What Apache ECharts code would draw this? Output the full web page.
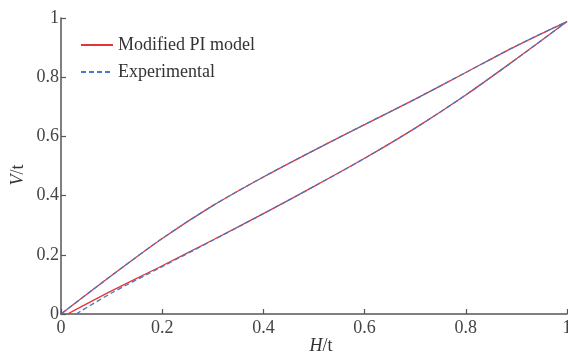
<!DOCTYPE html>
<html>
<head>
<meta charset="utf-8">
<script src="https://cdn.jsdelivr.net/npm/echarts@6/dist/echarts.min.js"></script>
<style>
  html, body { margin: 0; padding: 0; background: #fff; }
  #chart { width: 568px; height: 353px; }
</style>
</head>
<body>
<div id="chart"></div>
<script>
// loop: rising branch (lower) then falling branch (upper), H/t vs V/t
var modelH = [0.013, 0.1, 0.2, 0.3, 0.4, 0.5, 0.6, 0.7, 0.8, 0.9, 1.0,
              0.9, 0.8, 0.7, 0.6, 0.5, 0.4, 0.3, 0.2, 0.1, 0.0];
var modelV = [0.0, 0.078, 0.163, 0.25, 0.339, 0.431, 0.526, 0.628, 0.74, 0.862, 0.988,
              0.906, 0.816, 0.726, 0.64, 0.553, 0.463, 0.366, 0.255, 0.13, 0.0];
var expH = [0.03, 0.1, 0.2, 0.3, 0.4, 0.5, 0.6, 0.7, 0.8, 0.9, 1.0,
            0.9, 0.8, 0.7, 0.6, 0.5, 0.4, 0.3, 0.2, 0.1, 0.0];
var expV = [0.0, 0.071, 0.16, 0.249, 0.339, 0.431, 0.526, 0.628, 0.74, 0.862, 0.988,
            0.906, 0.816, 0.726, 0.64, 0.553, 0.463, 0.366, 0.255, 0.13, 0.0];
var tickLabels = ['0', '0.2', '0.4', '0.6', '0.8', '1'];

function pairs(xs, ys) {
  return xs.map(function (x, i) { return [x, ys[i]]; });
}

var serif = '"Liberation Serif", "DejaVu Serif", serif';
var axisColor = '#555';

var chart = echarts.init(document.getElementById('chart'));
chart.setOption({
  animation: false,
  grid: { left: 61, right: 1, top: 18, bottom: 39, outerBoundsMode: 'none' },
  legend: {
    orient: 'vertical',
    left: 75,
    top: 31,
    itemWidth: 32,
    itemHeight: 10,
    itemGap: 9,
    itemStyle: { opacity: 0 },
    textStyle: { fontFamily: serif, fontSize: 18, color: '#333' },
    data: ['Modified PI model', 'Experimental']
  },
  xAxis: {
    type: 'value',
    min: 0, max: 1, interval: 0.2,
    name: '{i|H}/t',
    nameLocation: 'middle',
    nameGap: 23,
    nameMoveOverlap: false,
    nameTextStyle: {
      fontFamily: serif, fontSize: 18, color: '#333',
      padding: [0, 0, 0, 14],
      rich: { i: { fontFamily: serif, fontSize: 18, fontStyle: 'italic', color: '#333' } }
    },
    axisLine: { lineStyle: { color: axisColor, width: 1.5 } },
    axisTick: { inside: true, length: 5, lineStyle: { color: axisColor, width: 1.2 } },
    axisLabel: {
      fontFamily: serif, fontSize: 18, color: '#444', margin: 5,
      formatter: function (v) { return tickLabels[Math.round(v * 5)]; }
    },
    splitLine: { show: false }
  },
  yAxis: {
    type: 'value',
    min: 0, max: 1, interval: 0.2,
    name: '{i|V}/t',
    nameLocation: 'middle',
    nameGap: 34,
    nameMoveOverlap: false,
    nameRotate: 90,
    nameTextStyle: {
      fontFamily: serif, fontSize: 18, color: '#333',
      padding: [0, 18, 0, 0],
      rich: { i: { fontFamily: serif, fontSize: 18, fontStyle: 'italic', color: '#333' } }
    },
    axisLine: { show: true, lineStyle: { color: axisColor, width: 1.5 } },
    axisTick: { show: true, inside: true, length: 5, lineStyle: { color: axisColor, width: 1.2 } },
    axisLabel: {
      fontFamily: serif, fontSize: 18, color: '#444', margin: 2,
      formatter: function (v) { return tickLabels[Math.round(v * 5)]; }
    },
    splitLine: { show: false }
  },
  series: [
    {
      name: 'Modified PI model',
      type: 'line',
      data: pairs(modelH, modelV),
      smooth: 0.3,
      symbol: 'none',
      lineStyle: { color: '#e0363a', width: 1.3 },
      itemStyle: { color: '#e0363a' }
    },
    {
      name: 'Experimental',
      type: 'line',
      data: pairs(expH, expV),
      smooth: 0.3,
      symbol: 'none',
      lineStyle: { color: '#4a78bf', width: 1.3, type: [5, 3] },
      itemStyle: { color: '#4a78bf' }
    }
  ]
});
</script>
</body>
</html>
